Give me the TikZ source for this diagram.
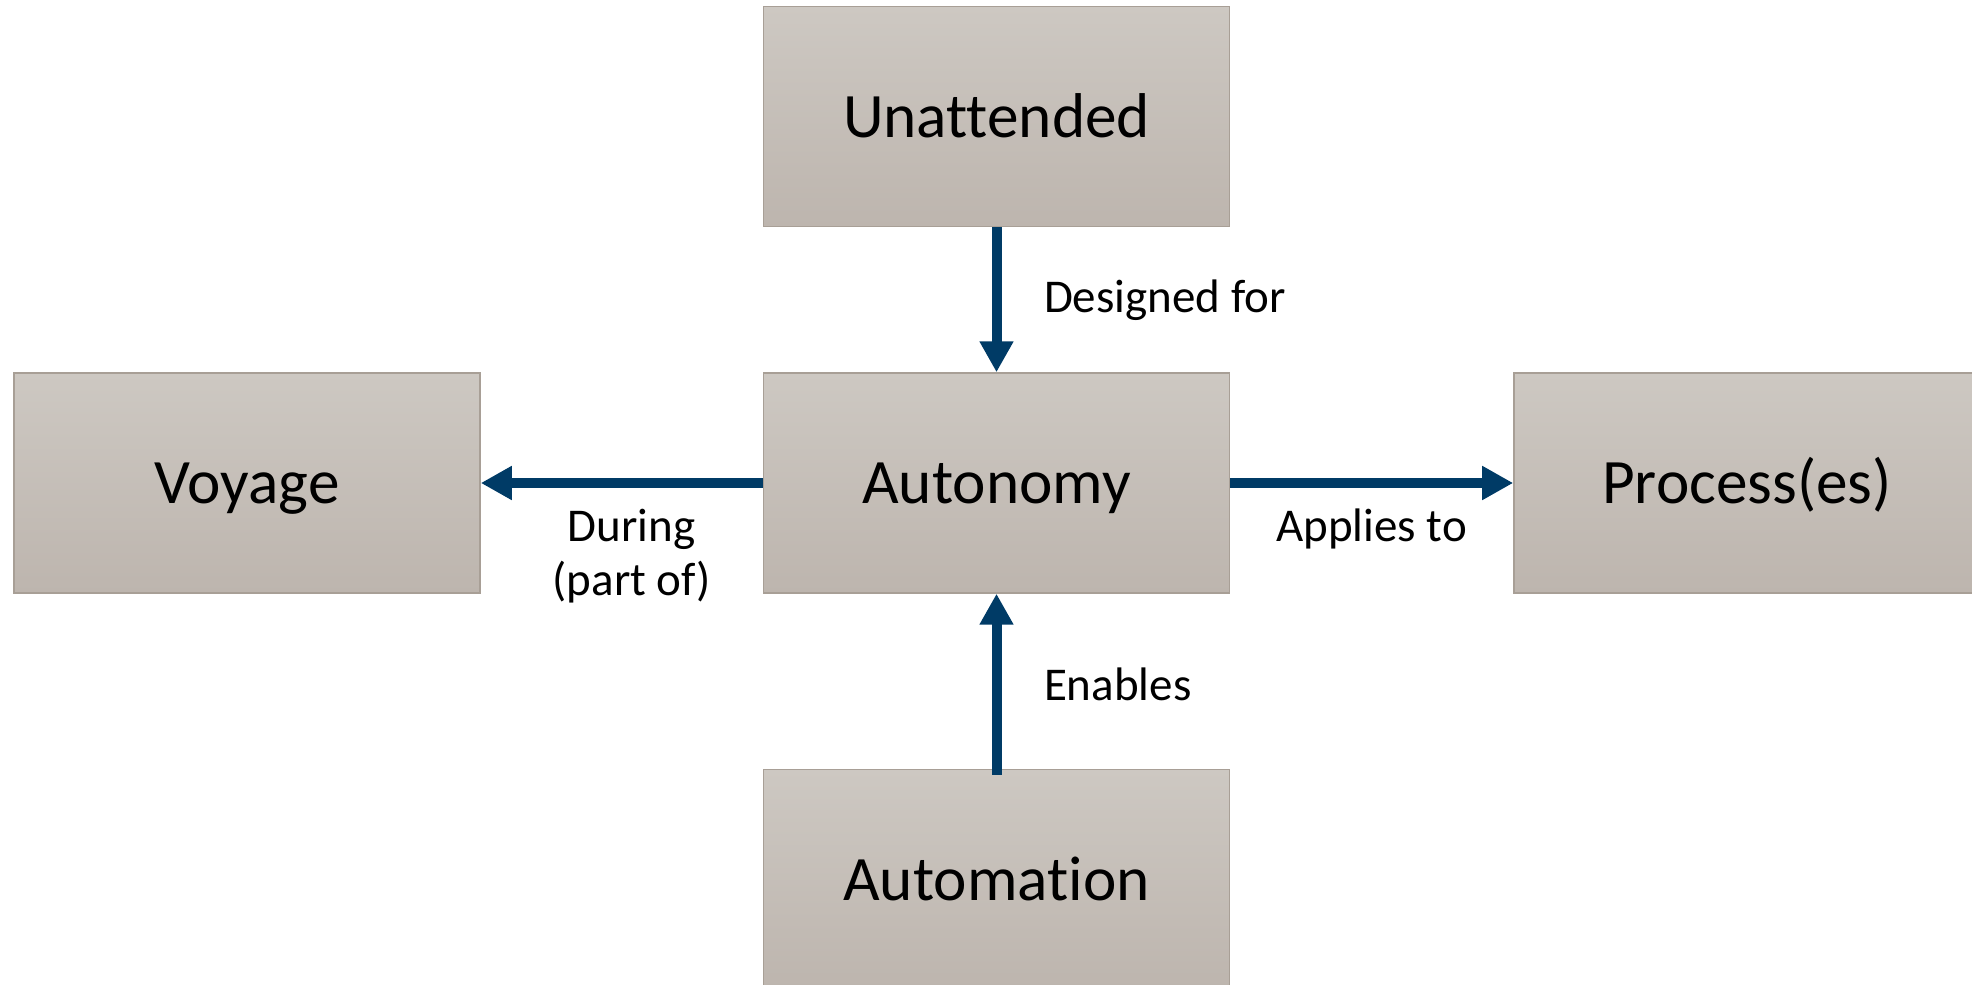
\documentclass[tikz,border=0pt]{standalone}
\usepackage{fontspec}
\setmainfont{Carlito}[Ligatures=NoCommon]
\usepackage{tikz}
\usetikzlibrary{arrows.meta,positioning}
\definecolor{boxtop}{RGB}{205,200,194}
\definecolor{boxbot}{RGB}{189,181,174}
\definecolor{boxline}{RGB}{168,159,150}
\definecolor{linkblue}{RGB}{0,59,102}
\tikzstyle{block} = [rectangle, draw=boxline, line width=0.8pt, top color=boxtop, bottom color=boxbot, minimum width=9.32cm, minimum height=4.4cm, inner sep=0pt, text height=1.14cm, text depth=0.3cm, font=\fontsize{36}{40}\selectfont]
\tikzstyle{link} = [line width=0.2cm, color=linkblue, -{Triangle[length=0.62cm,width=0.64cm]}]
\tikzstyle{lbl} = [inner sep=0pt, align=center, text=black, font=\fontsize{26.75}{30.7}\selectfont]

\begin{document}
\begin{tikzpicture}
\path[use as bounding box, clip] (0,0) rectangle (39.44,19.68);

% Boxes
\node[block] (auton) at (19.93,10.02) {Autonomy};
\node[block, above=2.9cm of auton] (unatt) {Unattended};
\node[block, left=5.64cm of auton] (voyage) {Voyage};
\node[block, right=5.66cm of auton] (proc) {Process(es)};
\node[block, below=3.5cm of auton] (automat) {Automation};

% Links
\draw[link] (unatt) -- node[lbl, midway, right=0.85cm] {Designed for} (auton);
\draw[link] (auton) -- node[lbl, midway, below=0.42cm, xshift=0.2cm] {During\\(part of)} (voyage);
\draw[link] (auton) -- node[lbl, midway, below=0.42cm] {Applies to} (proc);
\draw[link] ([yshift=-0.12cm]automat.north) -- node[lbl, midway, right=0.85cm] {Enables} (auton);
\end{tikzpicture}
\end{document}
